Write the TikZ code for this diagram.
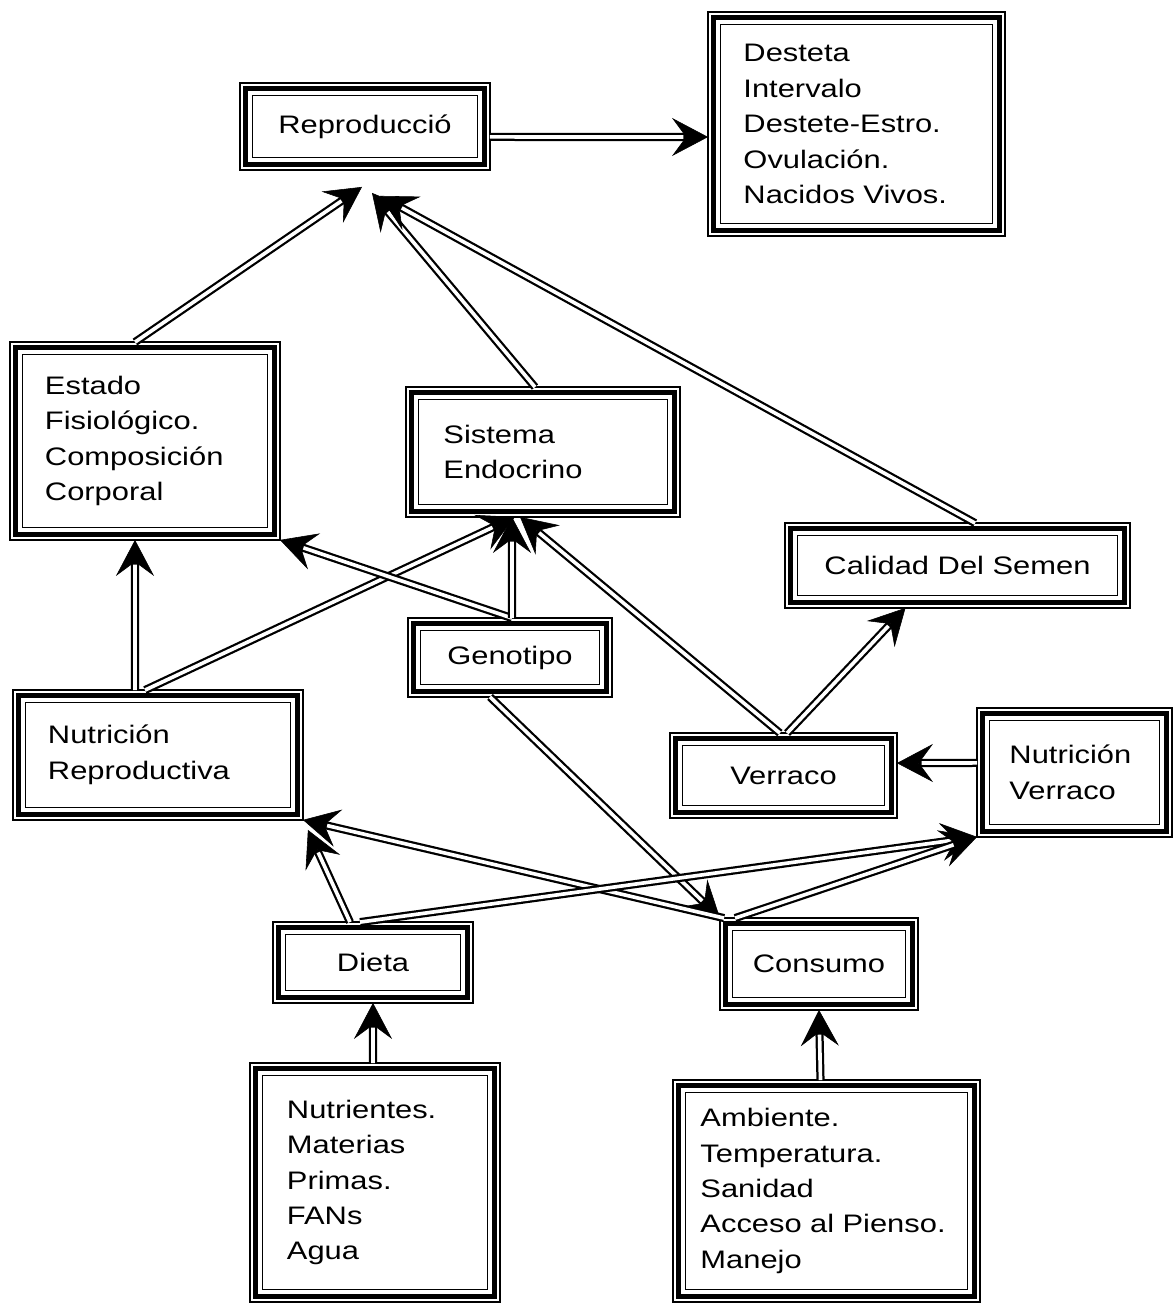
\documentclass[tikz,border=0pt]{standalone}
\usepackage{fontspec}
\setmainfont{Liberation Sans}[FakeStretch=1.22]
\usepackage{tikz}
\usetikzlibrary{arrows.meta}
\newcommand\boxfont{\fontsize{18}{25.2}\selectfont}
\tikzset{
  box/.style={draw, line width=0.9pt, outer sep=0.31cm, inner ysep=2pt, font=\boxfont},
  cbox/.style={box, align=center, inner xsep=2pt},
  lbox/.style={box, align=left},
  flow/.style={draw=white, line width=2.6pt, shorten >=0.62cm,
    preaction={draw=black, line width=5.8pt, shorten >=0pt, -{Stealth[length=0.9cm, width=0.95cm, inset=0.35cm, line width=0.4pt]}}},
}
\begin{document}
\begin{tikzpicture}[x=0.025cm, y=-0.025cm]
\useasboundingbox (0,0) rectangle (1173,1305);
% top row
\node[cbox, minimum width=5.625cm, minimum height=1.55cm] (repro) at (365,126.5) {Reproducció};
\node[lbox, text width=5.65cm, inner xsep=0.575cm, minimum height=4.975cm] (result) at (856.5,124) {Desteta\\Intervalo\\Destete-Estro.\\Ovulación.\\Nacidos Vivos.};
% middle
\node[lbox, text width=5.0cm, inner xsep=0.5625cm, minimum height=4.325cm] (estado) at (145,441) {Estado\\Fisiológico.\\Composición\\Corporal};
\node[lbox, text width=4.975cm, inner xsep=0.625cm, minimum height=2.625cm] (sistema) at (543,452) {Sistema\\Endocrino};
\node[cbox, minimum width=8.0cm, minimum height=1.5cm] (calidad) at (957.5,565.5) {Calidad Del Semen};
\node[cbox, minimum width=4.475cm, minimum height=1.35cm] (genotipo) at (510,657.5) {Genotipo};
\node[lbox, text width=5.5cm, inner xsep=0.5625cm, minimum height=2.625cm] (nutrep) at (158,755) {Nutrición\\Reproductiva};
\node[cbox, minimum width=5.05cm, minimum height=1.5cm] (verraco) at (783.5,775.5) {Verraco};
\node[lbox, text width=3.25cm, inner xsep=0.5cm, minimum height=2.6cm] (nutver) at (1074.5,772.5) {Nutrición\\Verraco};
% lower
\node[cbox, minimum width=4.375cm, minimum height=1.4cm] (dieta) at (373,962.5) {Dieta};
\node[cbox, minimum width=4.325cm, minimum height=1.675cm] (consumo) at (819,964) {Consumo};
\node[lbox, text width=4.4cm, inner xsep=0.6125cm, minimum height=5.35cm] (nutri) at (375,1182.5) {Nutrientes.\\Materias\\Primas.\\FANs\\Agua};
\node[lbox, text width=6.3cm, inner xsep=0.375cm, minimum height=4.925cm] (ambiente) at (826.5,1191) {Ambiente.\\Temperatura.\\Sanidad\\Acceso al Pienso.\\Manejo};
% triple frames
\foreach \n in {repro,result,estado,sistema,calidad,genotipo,nutrep,verraco,nutver,dieta,consumo,nutri,ambiente} {
  \draw[line width=3.2pt] ([shift={(0.14cm,-0.14cm)}]\n.north west) rectangle ([shift={(-0.14cm,0.14cm)}]\n.south east);
  \draw[line width=0.9pt] (\n.north west) rectangle (\n.south east);
}
% connectors
\draw[flow] ([yshift=-0.26cm]repro.east) -- ([yshift=-0.325cm]result.west);
\draw[flow] ([xshift=-0.25cm]estado.north) -- ([shift={(-0.075cm,-0.425cm)}]repro.south);
\draw[flow] ([xshift=-0.2cm]sistema.north) -- ([shift={(0.175cm,-0.575cm)}]repro.south);
\draw[flow] ([xshift=0.44cm]calidad.north) -- ([shift={(0.375cm,-0.65cm)}]repro.south);
\draw[flow] ([xshift=-0.575cm]nutrep.north) -- ([xshift=-0.25cm]estado.south);
\draw[flow] ([xshift=-0.325cm]nutrep.north) -- ([xshift=-0.7cm]sistema.south);
\draw[flow] ([xshift=0.05cm]genotipo.north) -- (estado.south east);
\draw[flow] ([xshift=0.05cm]genotipo.north) -- ([xshift=-0.775cm]sistema.south);
\draw[flow] ([xshift=-0.09cm]verraco.north) -- ([xshift=-0.575cm]sistema.south);
\draw[flow] ([xshift=0.09cm]verraco.north) -- ([xshift=-1.3cm]calidad.south);
\draw[flow] ([yshift=0.24cm]nutver.west) -- ([yshift=0.31cm]verraco.east);
\draw[flow] ([xshift=-0.5cm]genotipo.south) -- (consumo.north west);
\draw[flow] ([xshift=0.1cm]consumo.north west) -- (nutrep.south east);
\draw[flow] ([xshift=-0.575cm]dieta.north) -- ([shift={(0.125cm,-0.25cm)}]nutrep.south east);
\draw[flow] ([xshift=-0.325cm]dieta.north) -- (nutver.south west);
\draw[flow] ([xshift=0.375cm]consumo.north west) -- (nutver.south west);
\draw[flow] ([xshift=-0.05cm]nutri.north) -- (dieta.south);
\draw[flow] ([xshift=-0.15cm]ambiente.north) -- (consumo.south);
\end{tikzpicture}
\end{document}
